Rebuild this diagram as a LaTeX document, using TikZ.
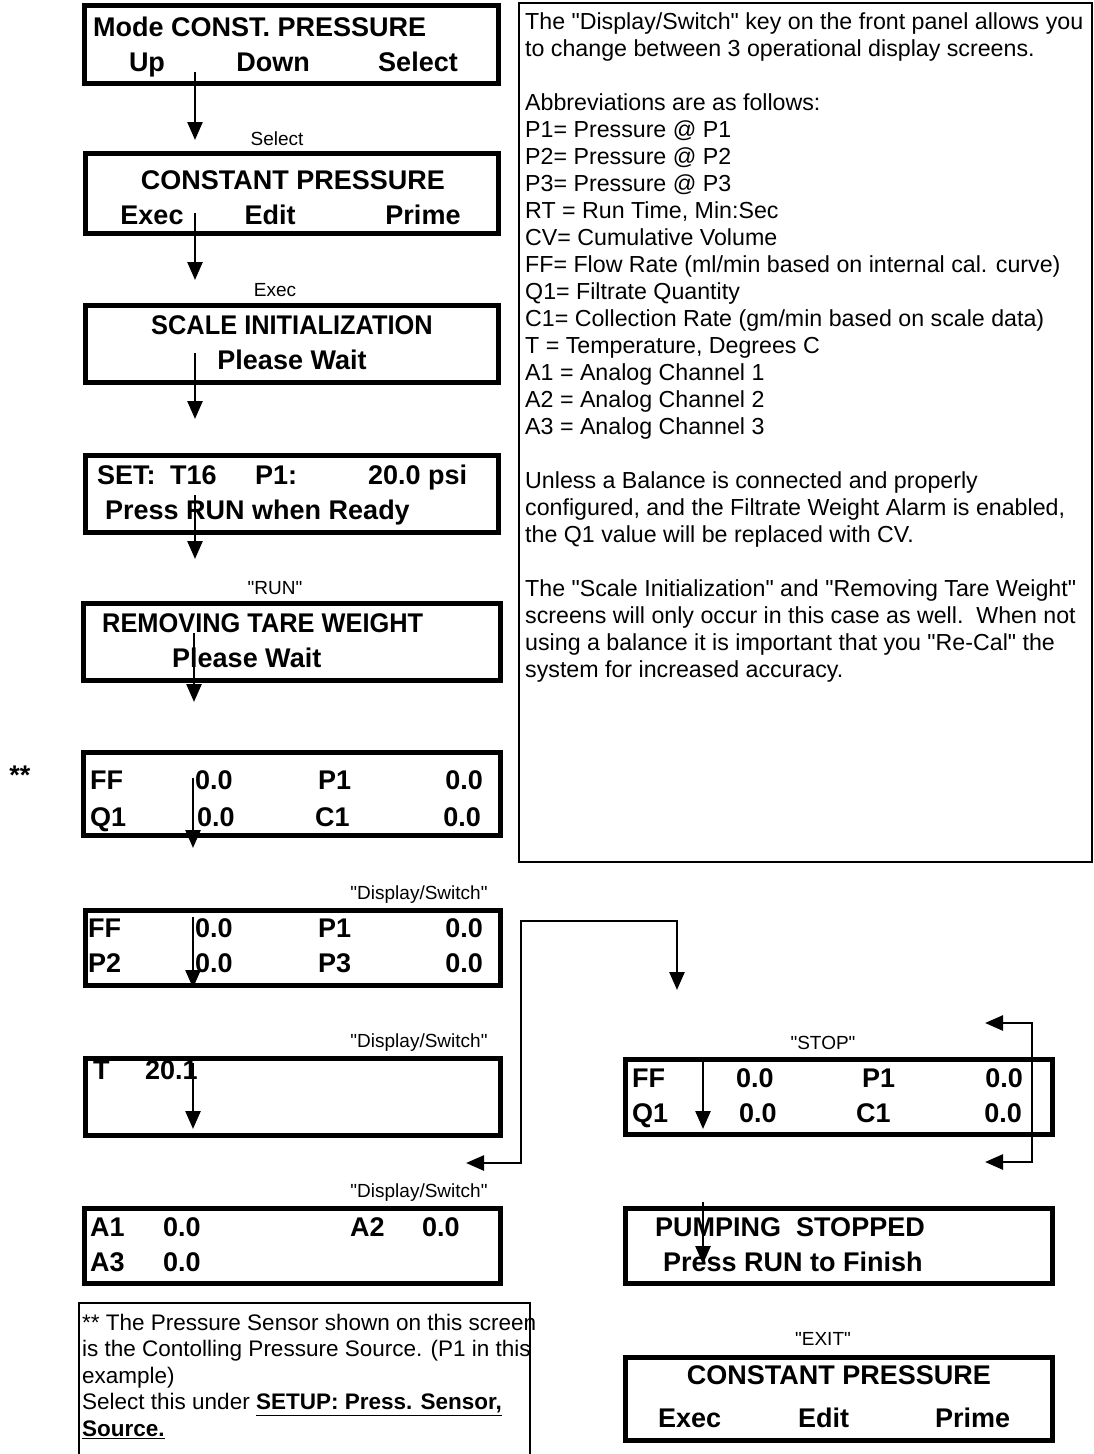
\documentclass[tikz,border=0pt]{standalone}
\usepackage{fontspec}
\newfontfamily\arialf{Liberation Sans}
\newfontfamily\arialc{Liberation Sans}[FakeStretch=0.94]
\usetikzlibrary{arrows.meta}
\begin{document}
\begin{tikzpicture}[x=1pt,y=-1pt,
  screen/.style={draw,line width=5pt,inner sep=0pt,outer sep=0pt},
  st/.style={font=\arialf\bfseries\fontsize{27}{32}\selectfont,inner sep=0pt,anchor=base west},
  stn/.style={st,font=\arialc\bfseries\fontsize{27}{32}\selectfont},
  stc/.style={st,anchor=base},
  ste/.style={st,anchor=base east},
  lbl/.style={font=\arialf\fontsize{19}{23}\selectfont,inner sep=0pt,anchor=base},
  nt/.style={font=\arialf\fontsize{23.2}{27}\selectfont,inner sep=0pt,anchor=base west},
  fnt/.style={nt,font=\arialf\fontsize{22.5}{27}\selectfont},
  tip/.tip={Triangle[width=15pt,length=18pt]},
  arr/.style={line width=2.5pt,-tip},
  darr/.style={line width=2.5pt,tip-tip},
  ]
\useasboundingbox (0,0) rectangle (1094,1454);

% ---- information box (right) ----
\draw[line width=2pt] (519,3) rectangle (1092,862);
\foreach \t [count=\i from 0] in {%
  {The "Display/Switch" key on the front panel allows you},
  {to change between 3 operational display screens.},
  {},
  {Abbreviations are as follows:},
  {P1= Pressure @ P1},
  {P2= Pressure @ P2},
  {P3= Pressure @ P3},
  {RT = Run Time, Min:Sec},
  {CV= Cumulative Volume},
  {FF= Flow Rate (ml/min based on internal cal. curve)},
  {Q1= Filtrate Quantity},
  {C1= Collection Rate (gm/min based on scale data)},
  {T = Temperature, Degrees C},
  {A1 = Analog Channel 1},
  {A2 = Analog Channel 2},
  {A3 = Analog Channel 3},
  {},
  {Unless a Balance is connected and properly},
  {configured, and the Filtrate Weight Alarm is enabled,},
  {the Q1 value will be replaced with CV.},
  {},
  {The "Scale Initialization" and "Removing Tare Weight"},
  {screens will only occur in this case as well.\ \ When not},
  {using a balance it is important that you "Re-Cal" the},
  {system for increased accuracy.}}
  \node[nt] (info\i) at (525,{29.3+27*\i}) {\t};

% ---- footnote box ----
\draw[line width=2.5pt] (79,1470) -- (79,1303) -- (530,1303) -- (530,1470);
\node[fnt] (fn1) at (82,1330.3) {** The Pressure Sensor shown on this screen};
\node[fnt] (fn2) at (82,1356.8) {is the Contolling Pressure Source. (P1 in this};
\node[fnt] (fn3) at (82,1383.3) {example)};
\node[fnt] (fn4) at (82,1409.8) {Select this under \underline{\bfseries SETUP: Press. Sensor,}};
\node[fnt] (fn5) at (82,1436.3) {\underline{\bfseries Source.}};

% ---- screens ----
\node[screen,minimum width=414pt,minimum height=78pt] (s1) at (291,44) {};
\node[screen,minimum width=413pt,minimum height=80pt] (s2) at (291.5,193) {};
\node[screen,minimum width=413pt,minimum height=77pt] (s3) at (291.5,343.5) {};
\node[screen,minimum width=413pt,minimum height=77pt] (s4) at (291.5,493.5) {};
\node[screen,minimum width=417pt,minimum height=77pt] (s5) at (291.5,641.5) {};
\node[screen,minimum width=417pt,minimum height=83pt] (s6) at (291.5,793.5) {};
\node[screen,minimum width=415pt,minimum height=75pt] (s7) at (292.5,947.5) {};
\node[screen,minimum width=415pt,minimum height=77pt] (s8) at (292.5,1096.5) {};
\node[screen,minimum width=416pt,minimum height=75pt] (s9) at (292,1245.5) {};
\node[screen,minimum width=427pt,minimum height=75pt] (s10) at (838.5,1096.5) {};
\node[screen,minimum width=427pt,minimum height=75pt] (s11) at (838.5,1245.5) {};
\node[screen,minimum width=427pt,minimum height=83pt] (s12) at (838.5,1398.5) {};

% screen 1
\node[st] (t1a) at (93,36.7) {Mode CONST. PRESSURE};
\node[stc] (t1b) at (147,71.7) {Up};
\node[stc] (t1c) at (273,71.7) {Down};
\node[stc] (t1d) at (418,71.7) {Select};
% screen 2
\node[stc] (t2a) at (293,189.7) {CONSTANT PRESSURE};
\node[stc] (t2b) at (152,224.7) {Exec};
\node[stc] (t2c) at (270,224.7) {Edit};
\node[stc] (t2d) at (423,224.7) {Prime};
% screen 3
\node[stn,anchor=base] (t3a) at (292,334.7) {SCALE INITIALIZATION};
\node[stc] (t3b) at (292,369.7) {Please Wait};
% screen 4
\node[st] (t4a) at (97,484.7) {SET:};
\node[st] (t4b) at (170,484.7) {T16};
\node[st] (t4c) at (255,484.7) {P1:};
\node[st] (t4d) at (368,484.7) {20.0 psi};
\node[st] (t4e) at (105,519.7) {Press RUN when Ready};
% screen 5
\node[stn] (t5a) at (102,632.7) {REMOVING TARE WEIGHT};
\node[st] (t5b) at (172,667.7) {Please Wait};
% screen 6
\node[st] (t6a) at (90,789.7) {FF};
\node[st] (t6b) at (195,789.7) {0.0};
\node[st] (t6c) at (318,789.7) {P1};
\node[ste] (t6d) at (483,789.7) {0.0};
\node[st] (t6e) at (90,826.7) {Q1};
\node[st] (t6f) at (197,826.7) {0.0};
\node[st] (t6g) at (315,826.7) {C1};
\node[ste] (t6h) at (481,826.7) {0.0};
% screen 7
\node[st] (t7a) at (88,937.7) {FF};
\node[st] (t7b) at (195,937.7) {0.0};
\node[st] (t7c) at (318,937.7) {P1};
\node[ste] (t7d) at (483,937.7) {0.0};
\node[st] (t7e) at (88,972.7) {P2};
\node[st] (t7f) at (195,972.7) {0.0};
\node[st] (t7g) at (318,972.7) {P3};
\node[ste] (t7h) at (483,972.7) {0.0};
% screen 8
\node[st] (t8a) at (93,1079.7) {T};
\node[st] (t8b) at (145,1079.7) {20.1};
% screen 9
\node[st] (t9a) at (90,1236.7) {A1};
\node[st] (t9b) at (163,1236.7) {0.0};
\node[st] (t9c) at (350,1236.7) {A2};
\node[st] (t9d) at (422,1236.7) {0.0};
\node[st] (t9e) at (90,1271.7) {A3};
\node[st] (t9f) at (163,1271.7) {0.0};
% screen 10
\node[st] (t10a) at (632,1087.7) {FF};
\node[st] (t10b) at (736,1087.7) {0.0};
\node[st] (t10c) at (862,1087.7) {P1};
\node[ste] (t10d) at (1023,1087.7) {0.0};
\node[st] (t10e) at (632,1122.7) {Q1};
\node[st] (t10f) at (739,1122.7) {0.0};
\node[st] (t10g) at (856,1122.7) {C1};
\node[ste] (t10h) at (1022,1122.7) {0.0};
% screen 11
\node[st] (t11a) at (655,1236.7) {PUMPING\ \ STOPPED};
\node[st] (t11b) at (663,1271.7) {Press RUN to Finish};
% screen 12
\node[stc] (t12a) at (839,1384.7) {CONSTANT PRESSURE};
\node[st] (t12b) at (658,1427.7) {Exec};
\node[st] (t12c) at (798,1427.7) {Edit};
\node[st] (t12d) at (935,1427.7) {Prime};

% asterisks
\node[stc] (ast) at (20,784) {**};

% ---- key labels ----
\node[lbl] (l1) at (277,145) {Select};
\node[lbl] (l2) at (275,296) {Exec};
\node[lbl] (l3) at (275,594) {"RUN"};
\node[lbl] (l4) at (419,899) {"Display/Switch"};
\node[lbl] (l5) at (419,1047) {"Display/Switch"};
\node[lbl] (l6) at (419,1197) {"Display/Switch"};
\node[lbl] (l7) at (823,1049) {"STOP"};
\node[lbl] (l8) at (823,1345) {"EXIT"};

% ---- arrows ----
\coordinate (a1s) at (195,72);   \coordinate (a1e) at (195,140);
\coordinate (a2s) at (195,213);  \coordinate (a2e) at (195,280);
\coordinate (a3s) at (195,353);  \coordinate (a3e) at (195,419);
\coordinate (a4s) at (195,495);  \coordinate (a4e) at (195,559);
\coordinate (a5s) at (194,633);  \coordinate (a5e) at (194,702);
\coordinate (a6s) at (193,778);  \coordinate (a6e) at (193,848);
\coordinate (a7s) at (193,917);  \coordinate (a7e) at (193,988);
\coordinate (a8s) at (193,1063); \coordinate (a8e) at (193,1129);
\coordinate (a9s) at (703,1062); \coordinate (a9e) at (703,1129);
\coordinate (a10s) at (703,1202); \coordinate (a10e) at (703,1264);
\foreach \k in {1,...,10} \draw[arr] (a\k s) -- (a\k e);

\coordinate (c1) at (466,1163); \coordinate (c2) at (521,921); \coordinate (c3) at (677,990);
\draw[darr] (c1) -| (c2) -| (c3);

\coordinate (d1) at (985,1023); \coordinate (d2) at (1032,1162); \coordinate (d3) at (985,1162);
\draw[darr] (d1) -| (d2) -- (d3);
\end{tikzpicture}
\end{document}
